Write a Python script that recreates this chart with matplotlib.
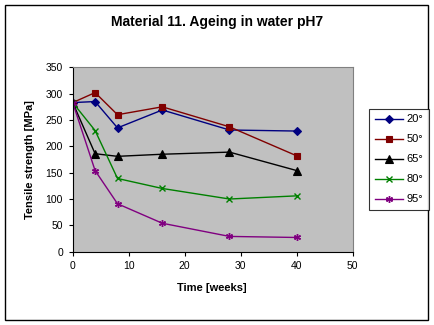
import matplotlib
matplotlib.use("Agg")
import matplotlib.pyplot as plt
from matplotlib.patches import Rectangle

plt.rcParams['font.family'] = ['Liberation Sans', 'DejaVu Sans']

weeks = [0, 4, 8, 16, 28, 40]
labels = ["20°", "50°", "65°", "80°", "95°"]
s20 = [283, 285, 235, 269, 231, 229]
s50 = [283, 302, 260, 275, 237, 182]
s65 = [283, 186, 181, 185, 189, 154]
s80 = [283, 230, 139, 120, 100, 106]
s95 = [283, 154, 91, 54, 29, 27]
series = [s20, s50, s65, s80, s95]
colors = ["#000080", "#800000", "#000000", "#008000", "#800080"]
markers = ["D", "s", "^", "x", (6, 2, 0)]
msizes = [4.5, 5, 5.5, 4.5, 5]

W, H = 435, 325
fig = plt.figure(figsize=(W / 100, H / 100), dpi=100)
fig.patches.append(Rectangle((5 / W, 1 - 320 / H), 423 / W, 315 / H, transform=fig.transFigure,
                             fill=False, edgecolor='black', linewidth=1))

ax = fig.add_axes([72.7 / W, (H - 251.7) / H, 280 / W, 184.4 / H])
ax.set_facecolor('#C0C0C0')
for s, c, m, ms, lab in zip(series, colors, markers, msizes, labels):
    ax.plot(weeks, s, color=c, marker=m, markersize=ms, linewidth=1,
            markeredgewidth=1 if m in ("x",) or isinstance(m, tuple) else 0.8, label=lab)

ax.set_xlim(0, 50)
ax.set_ylim(0, 350)
ax.set_xticks(range(0, 51, 10))
ax.set_yticks(range(0, 351, 50))
ax.tick_params(direction='out', length=3, width=0.8, labelsize=7.5, colors='black', pad=4)
for side in ('top', 'right'):
    ax.spines[side].set_color('#808080')
for side in ('left', 'bottom'):
    ax.spines[side].set_color('black')

fig.text(217 / W, 1 - 22 / H, "Material 11. Ageing in water pH7", ha='center', va='center',
         fontsize=10, fontweight='bold')
fig.text(212 / W, 1 - 288 / H, "Time [weeks]", ha='center', va='center', fontsize=8, fontweight='bold')
fig.text(30 / W, 1 - 160 / H, "Tensile strength [MPa]", ha='center', va='center', rotation=90,
         fontsize=8, fontweight='bold')

leg = fig.legend(loc='center', bbox_to_anchor=(371 / W, (H - 207) / H, 56 / W, 95 / H),
                 bbox_transform=fig.transFigure, fontsize=8, frameon=True, fancybox=False,
                 handlelength=2.6, handletextpad=0.3, labelspacing=0.9, borderpad=0.5)
leg.get_frame().set_edgecolor('black')
leg.get_frame().set_linewidth(0.8)

fig.savefig("out.png", dpi=100)
